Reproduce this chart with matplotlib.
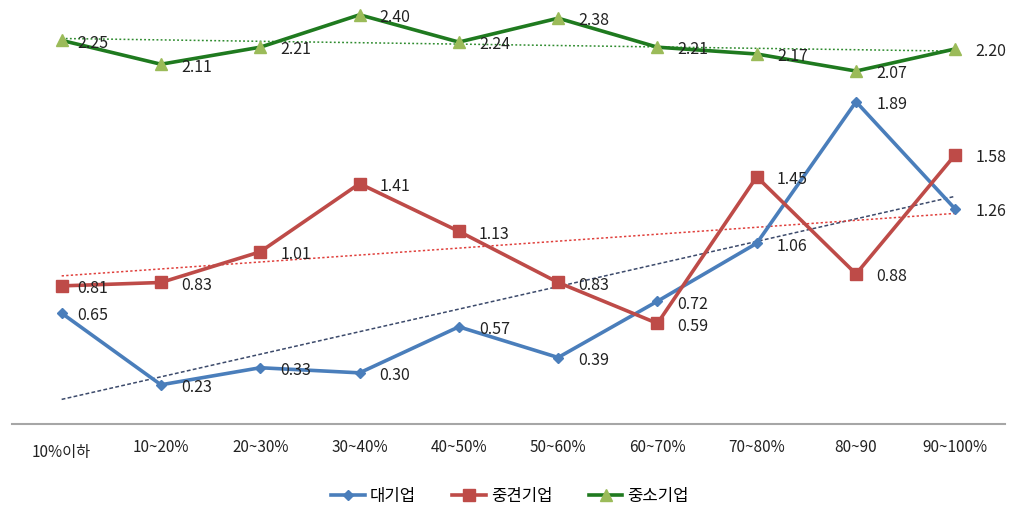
import numpy as np
import matplotlib
matplotlib.use("Agg")
import matplotlib.pyplot as plt

plt.rcParams['font.family'] = ['Noto Sans CJK KR', 'DejaVu Sans']

categories = ["10%이하", "10~20%", "20~30%", "30~40%", "40~50%", "50~60%",
              "60~70%", "70~80%", "80~90", "90~100%"]
large = [0.65, 0.23, 0.33, 0.30, 0.57, 0.39, 0.72, 1.06, 1.89, 1.26]
middle = [0.81, 0.83, 1.01, 1.41, 1.13, 0.83, 0.59, 1.45, 0.88, 1.58]
small = [2.25, 2.11, 2.21, 2.40, 2.24, 2.38, 2.21, 2.17, 2.07, 2.20]
series_names = ["대기업", "중견기업", "중소기업"]

W, H = 1011, 508
fig = plt.figure(figsize=(W / 100, H / 100), dpi=100)
ax_left, ax_right = 12 / W, 1005 / W
ax_bottom = 1 - 424 / H
ax = fig.add_axes([ax_left, ax_bottom, ax_right - ax_left, 1 - ax_bottom])

x = np.arange(len(categories))
ax.set_xlim(-0.5, len(categories) - 0.5)
ax.set_ylim(0, 424 / 170.5)

styles = [
    dict(data=large, color="#4A7EBB", marker="D", ms=5.5, mfc="#4A7EBB", mec="#4A7EBB", trend="#3C4A6B", tls=(0, (2.5, 1.5))),
    dict(data=middle, color="#BE4B48", marker="s", ms=8, mfc="#BE4B48", mec="#BE4B48", trend="#E0403C", tls=(0, (1.5, 1.5))),
    dict(data=small, color="#1F7A1F", marker="^", ms=8, mfc="#9BBB59", mec="#9BBB59", trend="#2E8B2E", tls=(0, (1.2, 1.5))),
]

handles = []
for s, name in zip(styles, series_names):
    y = np.array(s["data"])
    k, b = np.polyfit(x, y, 1)
    ax.plot(x, k * x + b, color=s["trend"], lw=1.1, ls=s["tls"], zorder=2)
    h, = ax.plot(x, y, color=s["color"], lw=2.6, marker=s["marker"], ms=s["ms"],
                 mfc=s["mfc"], mec=s["mec"], zorder=3, label=name)
    handles.append(h)
    for xi, yi in zip(x, y):
        dx = 11 if xi == 0 else 14.5
        ax.annotate(f"{yi:.2f}", (xi, yi), xytext=(dx, -2), textcoords="offset points",
                    ha="left", va="center", fontsize=11.5, color="#222222", zorder=4)

for sp in ["top", "right", "left"]:
    ax.spines[sp].set_visible(False)
ax.spines["bottom"].set_color("#A6A6A6")
ax.spines["bottom"].set_linewidth(1.5)
ax.set_yticks([])
ax.set_xticks(x)
ax.set_xticklabels(categories, fontsize=11, color="#222222")
ax.tick_params(axis="x", length=0, pad=11)
lbls = ax.get_xticklabels()
lbls[0].set_y(-0.012)
ax.patch.set_alpha(0)

fig.legend(handles=handles, loc="center", bbox_to_anchor=(510 / W, 1 - 496 / H),
           ncol=3, frameon=False, fontsize=12, handlelength=2.0, columnspacing=2.2,
           handletextpad=0.3)

fig.savefig("out.png", dpi=100)
